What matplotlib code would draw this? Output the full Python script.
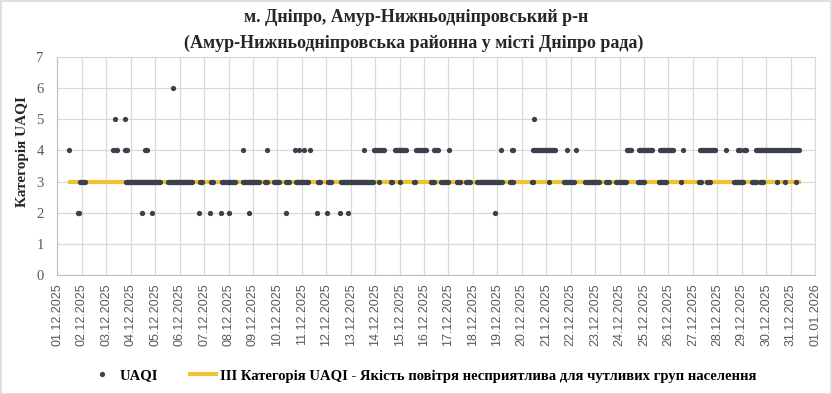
import numpy as np
import pandas as pd
import matplotlib
matplotlib.use("Agg")
import matplotlib.pyplot as plt
import matplotlib.dates as mdates
from matplotlib.lines import Line2D
from matplotlib.patches import Rectangle

START = pd.Timestamp("2025-12-01 00:00")
END = pd.Timestamp("2026-01-01 00:00")

# hourly readings, hours counted from 01.12.2025 00:00; runs are (first, last) hour
CAT3_RUNS = [(22, 27), (67, 101), (109, 132), (140, 142), (151, 153), (162, 174),
             (182, 198), (204, 206), (213, 218), (224, 227), (234, 246), (256, 258),
             (266, 269), (278, 310), (316, 316), (328, 329), (336, 336), (350, 351),
             (367, 370), (377, 384), (392, 395), (401, 405), (412, 437), (444, 447),
             (466, 467), (483, 483), (497, 507), (518, 532), (539, 542), (549, 558),
             (570, 576), (591, 598), (612, 612), (630, 632), (638, 641), (664, 673),
             (682, 686), (690, 693), (707, 707), (715, 715), (725, 725)]
CAT4_RUNS = [(11, 11), (55, 55), (57, 58), (66, 68), (86, 88), (182, 182), (206, 206),
             (233, 233), (237, 237), (242, 242), (248, 248), (301, 301), (311, 321),
             (331, 342), (352, 362), (370, 374), (385, 385), (436, 436), (446, 447),
             (467, 489), (500, 500), (509, 509), (559, 563), (571, 584), (592, 605),
             (614, 614), (631, 646), (657, 657), (668, 670), (674, 676), (686, 728)]
CAT2_HOURS = [20, 21, 83, 93, 139, 150, 161, 168, 188, 224, 255, 265, 277, 285, 430]
CAT5_HOURS = [56, 66, 468]
CAT6_HOURS = [113]

THRESHOLD = 3
THRESHOLD_SPAN = (10, 730)

TITLE = ["м. Дніпро, Амур-Нижньодніпровський р-н",
         "(Амур-Нижньодніпровська районна у місті Дніпро рада)"]
YLABEL = "Категорія UAQI"
LEG_POINTS = "UAQI"
LEG_LINE = "III Категорія UAQI - Якість повітря несприятлива для чутливих груп населення"

DOT = "#3a404c"
GOLD = "#f0c232"
GRID = "#d9d9d9"
TXT = "#595959"
SERIF = "Liberation Serif"


def expand(runs):
    return np.concatenate([np.arange(a, b + 1) for a, b in runs])


def to_time(hours):
    return START + pd.to_timedelta(np.asarray(hours), unit="h")


levels = [(expand(CAT3_RUNS), 3), (expand(CAT4_RUNS), 4),
          (np.array(CAT2_HOURS), 2), (np.array(CAT5_HOURS), 5), (np.array(CAT6_HOURS), 6)]
t_all = np.concatenate([to_time(h) for h, _ in levels])
v_all = np.concatenate([np.full(len(h), v) for h, v in levels])

fig = plt.figure(figsize=(8.32, 3.94), dpi=100)
ax = fig.add_axes([0.0691, 0.302, 0.9105, 0.5533])

span = to_time(list(THRESHOLD_SPAN))
ax.plot(span, [THRESHOLD, THRESHOLD], color=GOLD, lw=3.0, solid_capstyle="butt", zorder=2)
ax.plot(t_all, v_all, ls="none", marker="o", ms=3.8, color=DOT, mew=0, zorder=3)

ax.set_xlim(START, END)
ax.set_ylim(0, 7)
ax.set_yticks(range(0, 8))
ax.xaxis.set_major_locator(mdates.DayLocator())
ax.xaxis.set_major_formatter(mdates.DateFormatter("%d.%m.%Y"))
ax.grid(True, color=GRID, lw=0.9)
ax.set_axisbelow(True)
for s in ax.spines.values():
    s.set_color(GRID)
ax.spines["left"].set_color("#bfbfbf")
ax.spines["bottom"].set_color("#bfbfbf")
ax.tick_params(axis="both", length=0)
ax.tick_params(axis="x", pad=6, labelrotation=90, labelsize=9, labelcolor=TXT)
ax.tick_params(axis="y", pad=10, labelsize=10.5, labelcolor=TXT)
for lab in ax.get_xticklabels():
    lab.set_fontfamily("Liberation Sans")
for lab in ax.get_yticklabels():
    lab.set_fontfamily(SERIF)

fig.text(0.5, 1 - 18 / 394, TITLE[0], ha="center", va="center",
         fontsize=13, fontweight="bold", family=SERIF, color="#262626")
fig.text(0.497, 1 - 43 / 394, TITLE[1], ha="center", va="center",
         fontsize=13, fontweight="bold", family=SERIF, color="#262626")
fig.text(22 / 832, 1 - 152 / 394, YLABEL, ha="center", va="center", rotation=90,
         fontsize=11, fontweight="bold", family=SERIF, color="#262626")

handles = [Line2D([], [], ls="none", marker="o", ms=3.8, color=DOT, mew=0),
           Line2D([], [], color=GOLD, lw=3.0)]
fig.legend(handles, [LEG_POINTS, LEG_LINE], loc="center", ncol=2,
           bbox_to_anchor=(0.508, 1 - 376 / 394), frameon=False, handlelength=1.8,
           columnspacing=2.2, handletextpad=0.3,
           prop={"family": SERIF, "weight": "bold", "size": 10.5})

fig.add_artist(Rectangle((0.001, 0.001), 0.998, 0.997, transform=fig.transFigure,
                         fill=False, ec=GRID, lw=1.2))

fig.savefig("out.png", dpi=100)
